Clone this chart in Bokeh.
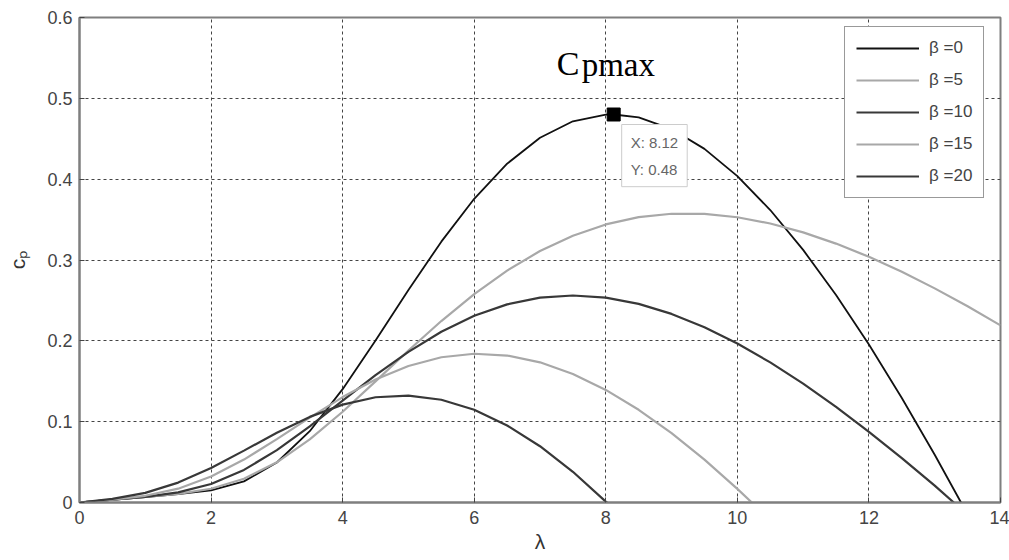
from bokeh.plotting import figure
from bokeh.models import Legend, LegendItem, FixedTicker, Label, Range1d
from bokeh.embed import file_html
from bokeh.resources import INLINE
from bokeh.core.properties import value

# ---- data ----
lam_b0 = [0, 0.5, 1, 1.5, 2, 2.5, 3, 3.5, 4, 4.5, 5, 5.5, 6, 6.5, 7, 7.5, 8, 8.12,
          8.5, 9, 9.5, 10, 10.5, 11, 11.5, 12, 12.5, 13, 13.4]
cp_b0 = [0, 0.0034, 0.0068, 0.0103, 0.0151, 0.0261, 0.0495, 0.0882, 0.1402, 0.2003,
         0.2629, 0.3227, 0.3757, 0.4191, 0.4513, 0.4716, 0.4798, 0.48, 0.4764, 0.4620,
         0.4375, 0.4037, 0.3618, 0.3125, 0.2567, 0.1954, 0.1293, 0.0590, 0.0]

lam_b5 = [0, 0.5, 1, 1.5, 2, 2.5, 3, 3.5, 4, 4.5, 5, 5.5, 6, 6.5, 7, 7.5, 8, 8.5, 9,
          9.5, 10, 10.5, 11, 11.5, 12, 12.5, 13, 13.5, 14]
cp_b5 = [0, 0.0034, 0.0068, 0.0106, 0.0170, 0.0293, 0.0497, 0.0780, 0.1123, 0.1498,
         0.1880, 0.2245, 0.2578, 0.2869, 0.3111, 0.3301, 0.3440, 0.3530, 0.3572, 0.3570,
         0.3529, 0.3451, 0.3342, 0.3203, 0.3039, 0.2854, 0.2649, 0.2427, 0.2191]

lam_b10 = [0, 0.5, 1, 1.5, 2, 2.5, 3, 3.5, 4, 4.5, 5, 5.5, 6, 6.5, 7, 7.5, 8, 8.5, 9,
           9.5, 10, 10.5, 11, 11.5, 12, 12.5, 13, 13.29]
cp_b10 = [0, 0.0034, 0.0070, 0.0125, 0.0229, 0.0403, 0.0648, 0.0943, 0.1261, 0.1575,
          0.1864, 0.2113, 0.2310, 0.2451, 0.2534, 0.2561, 0.2534, 0.2457, 0.2333, 0.2169,
          0.1967, 0.1733, 0.1470, 0.1183, 0.0875, 0.0549, 0.0208, 0.0]

lam_b15 = [0, 0.5, 1, 1.5, 2, 2.5, 3, 3.5, 4, 4.5, 5, 5.5, 6, 6.5, 7, 7.5, 8, 8.5, 9,
           9.5, 10, 10.22]
cp_b15 = [0, 0.0035, 0.0083, 0.0171, 0.0321, 0.0531, 0.0784, 0.1050, 0.1304, 0.1522,
          0.1689, 0.1797, 0.1840, 0.1818, 0.1734, 0.1590, 0.1393, 0.1147, 0.0857, 0.0530,
          0.0169, 0.0]

lam_b20 = [0, 0.5, 1, 1.5, 2, 2.5, 3, 3.5, 4, 4.5, 5, 5.5, 6, 6.5, 7, 7.5, 8, 8.02]
cp_b20 = [0, 0.0044, 0.0119, 0.0246, 0.0427, 0.0642, 0.0862, 0.1059, 0.1211, 0.1302,
          0.1323, 0.1271, 0.1147, 0.0953, 0.0696, 0.0380, 0.0011, 0.0]

legend_labels = ["\u03b2 =0", "\u03b2 =5", "\u03b2 =10", "\u03b2 =15", "\u03b2 =20"]
x_ticks = [0, 2, 4, 6, 8, 10, 12, 14]
y_ticks = [0, 0.1, 0.2, 0.3, 0.4, 0.5, 0.6]
y_tick_labels = ["0", "0.1", "0.2", "0.3", "0.4", "0.5", "0.6"]
peak_x = [8.12]
peak_y = [0.48]
tip_text = "X: 8.12\nY: 0.48"

# ---- styles ----
colors = ["#111111", "#a8a8a8", "#383838", "#a8a8a8", "#383838"]
widths = [1.8, 2.2, 2.2, 2.2, 2.2]
FONT = "Liberation Sans"

p = figure(width=1009, height=560, x_range=Range1d(0, 14), y_range=Range1d(0, 0.6),
           output_backend="svg", toolbar_location=None,
           min_border_left=79, min_border_right=9, min_border_top=17, min_border_bottom=58)
p.background_fill_color = "white"
p.border_fill_color = "white"
p.outline_line_color = "#7f7f7f"
p.outline_line_width = 2

for ax in (p.xaxis[0], p.yaxis[0]):
    ax.axis_line_color = "#7f7f7f"
    ax.axis_line_width = 2
    ax.major_tick_in = 5
    ax.major_tick_out = 0
    ax.major_tick_line_color = "#444444"
    ax.minor_tick_line_color = None
    ax.major_label_text_font = FONT
    ax.major_label_text_font_size = "18px"
    ax.major_label_text_color = "#444444"
    ax.axis_label_text_font = FONT
    ax.axis_label_text_font_style = "normal"
    ax.axis_label_text_font_size = "21px"
    ax.axis_label_text_color = "#333333"

p.xaxis.ticker = FixedTicker(ticks=x_ticks)
p.yaxis.ticker = FixedTicker(ticks=y_ticks)
p.yaxis.major_label_overrides = dict(zip(y_ticks, y_tick_labels))
p.xaxis.major_label_standoff = 8
p.yaxis.major_label_standoff = 7
p.xaxis.axis_label = "\u03bb"
p.xaxis.axis_label_standoff = 3
p.yaxis.axis_label = "c\u209a"
p.yaxis.axis_label_standoff = 15

for g in (p.xgrid[0], p.ygrid[0]):
    g.grid_line_color = "#444444"
    g.grid_line_dash = "3 3"
    g.grid_line_width = 1

series = [(lam_b0, cp_b0), (lam_b5, cp_b5), (lam_b10, cp_b10), (lam_b15, cp_b15), (lam_b20, cp_b20)]
renderers = []
for (xs, ys), c, w in zip(series, colors, widths):
    renderers.append(p.line(xs, ys, line_color=c, line_width=w))

legend = Legend(items=[LegendItem(label=lab, renderers=[r]) for lab, r in zip(legend_labels, renderers)],
                location=(765, 304))
legend.glyph_width = 63
legend.glyph_height = 20
legend.label_height = 20
legend.spacing = 12
legend.label_standoff = 10
legend.padding = 11
legend.margin = 0
legend.border_line_color = "#333333"
legend.border_line_width = 1.5
legend.background_fill_color = "white"
legend.background_fill_alpha = 1
legend.label_text_font = FONT
legend.label_text_font_size = "17px"
legend.label_text_color = "#444444"
p.add_layout(legend)

# peak marker and annotation
p.scatter(peak_x, peak_y, marker="square", size=13, color="black")
p.text(peak_x, peak_y, text=["C"], text_font=value("Liberation Serif"), text_font_size="34px",
       x_offset=-57, y_offset=-51, text_baseline="alphabetic", text_color="#000000")
p.text(peak_x, peak_y, text=["pmax"], text_font=value("Liberation Serif"), text_font_size="33px",
       x_offset=-32, y_offset=-50, text_baseline="alphabetic", text_color="#000000")

tip = Label(x=peak_x[0], y=peak_y[0], x_offset=8, y_offset=-10, text=tip_text,
            text_align="left", text_baseline="top", text_font=FONT, text_font_size="15px",
            text_color="#666666", text_line_height=1.6,
            background_fill_color="white", border_line_color="#cccccc", border_line_width=1,
            padding=9)
p.add_layout(tip)

open("out.html", "w").write(file_html(p, INLINE))
